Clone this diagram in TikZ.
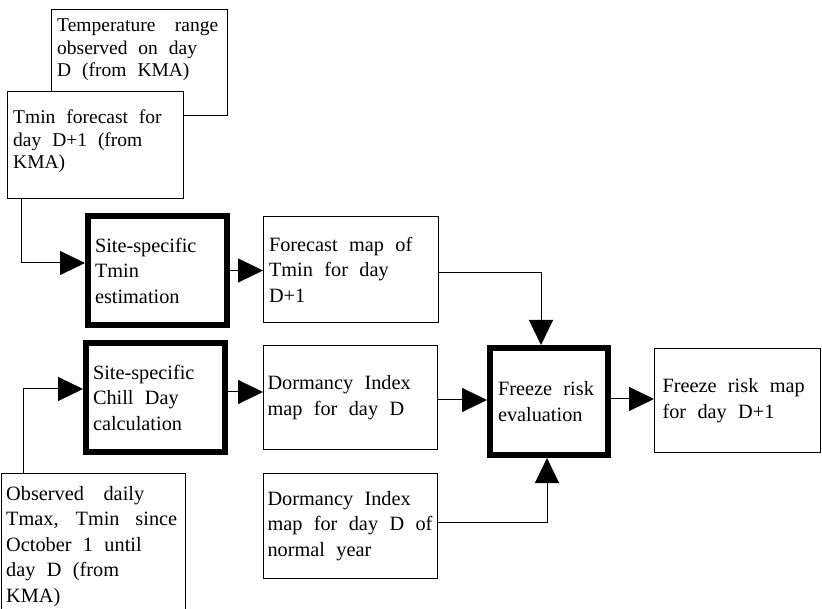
\documentclass[tikz,border=0pt]{standalone}
\usepackage{fontspec}
\setmainfont{Liberation Serif}
\usetikzlibrary{arrows.meta}
\newcommand{\fsa}{\fontsize{19.5pt}{22.5pt}\selectfont}
\newcommand{\fsb}{\fontsize{20.3pt}{25.5pt}\selectfont}
\newcommand{\wsp}{\spaceskip=0.56em plus 0.3em\relax\xspaceskip=\spaceskip}
\begin{document}
\begin{tikzpicture}[x=1pt,y=-1pt,
  box/.style={draw, line width=1pt, fill=white, inner sep=0pt, anchor=north west, align=left, font=\fsb, execute at begin node=\wsp},
  tbox/.style={box, line width=6pt},
  txt/.style={inner sep=0pt, anchor=north west, align=left, execute at begin node=\wsp},
  arr/.style={line width=1pt, -{Triangle[length=25pt,width=24pt]}}]
\useasboundingbox (0,0) rectangle (822,609);
\fill[white] (0,0) rectangle (822,609);
\clip (0,0) rectangle (822,609);
% top inputs
\node[box, minimum width=176pt, minimum height=106pt] (A) at (51,9) {};
\node[txt, font=\fsa, text width=166pt] (At) at (57,19) {\makebox[161pt][s]{Temperature range}\\observed on day\\D (from KMA)};
\node[box, minimum width=176pt, minimum height=107pt] (B) at (7,91) {};
\node[txt, font=\fsa, text width=166pt] (Bt) at (13,110) {Tmin forecast for\\day D+1 (from\\KMA)};
% processes
\node[tbox, minimum width=139pt, minimum height=109pt, text width=125pt] (C) at (85,213) {Site-specific\\Tmin\\estimation};
\node[tbox, minimum width=139pt, minimum height=109pt, text width=125pt] (D) at (83,340) {Site-specific\\Chill Day\\calculation};
% bottom input
\node[box, minimum width=184pt, minimum height=160pt] (E) at (1,473) {};
\node[txt, font=\fsb, text width=175pt] (Et) at (6,486) {\makebox[138pt][s]{Observed daily}\\\makebox[171pt][s]{Tmax, Tmin since}\\October 1 until\\day D (from\\KMA)};
% maps
\node[box, minimum width=175pt, minimum height=106pt, text width=164pt] (F) at (263,216) {Forecast map of\\Tmin for day\\D+1};
\node[box, minimum width=174pt, minimum height=104pt, text width=166pt] (H) at (263,345) {Dormancy Index\\map for day D};
\node[box, minimum width=174pt, minimum height=105pt, text width=166pt] (I) at (263,473) {Dormancy Index\\map for day D of\\normal year};
\node[tbox, minimum width=118pt, minimum height=107pt, text width=102pt] (G) at (487,345) {Freeze risk\\evaluation};
\node[box, minimum width=166pt, minimum height=104pt, text width=150pt] (J) at (654,348) {Freeze risk map\\for day D+1};
% connectors
\coordinate (b1) at ([xshift=14pt]B.south west);
\coordinate (c1) at ([yshift=7.5pt]C.west);
\draw[arr] (b1) |- (c1);
\draw[arr] (C.east) -- (C.east -| F.west);
\coordinate (e1) at ([xshift=22pt]E.north west);
\coordinate (d1) at ([yshift=8.5pt]D.west);
\draw[arr] (e1) |- (d1);
\coordinate (d2) at ([yshift=5.5pt]D.east);
\draw[arr] (d2) -- (d2 -| H.west);
\coordinate (f1) at ([yshift=-3.5pt]F.east);
\coordinate (g1) at ([xshift=-8pt]G.north);
\draw[arr] (f1) -| (g1);
\coordinate (h1) at ([yshift=-2.5pt]H.east);
\draw[arr] (h1) -- (h1 -| G.west);
\coordinate (i1) at ([yshift=4pt]I.east);
\coordinate (g2) at ([xshift=-2pt]G.south);
\draw[arr] (i1) -| (g2);
\coordinate (g3) at ([yshift=2.5pt]G.east);
\draw[arr] (g3) -- (g3 -| J.west);
\end{tikzpicture}
\end{document}
